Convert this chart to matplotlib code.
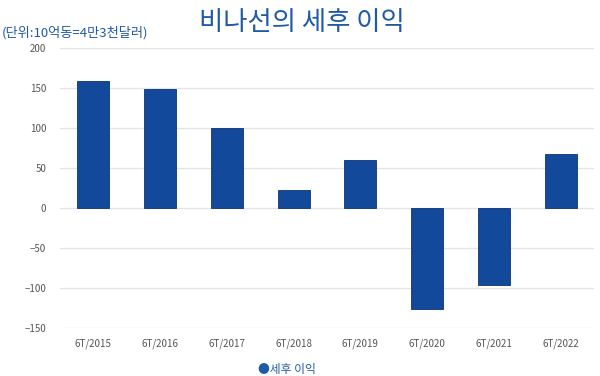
import numpy as np
import matplotlib.pyplot as plt

plt.rcParams['font.family'] = ['Noto Sans CJK KR', 'DejaVu Sans']

years = ['6T/2015', '6T/2016', '6T/2017', '6T/2018', '6T/2019', '6T/2020', '6T/2021', '6T/2022']
profit = [159, 149, 100, 23, 60, -126, -96, 67]

bar_color = '#13499a'

fig = plt.figure(figsize=(6, 3.76), dpi=100)
ax = fig.add_axes([0.1, 0.128, 0.89, 0.744])

x = np.arange(len(years))
ax.bar(x, profit, width=0.48, color=bar_color, edgecolor='#0d3470', linewidth=0.6, zorder=3)

ax.set_xlim(-0.5, len(years) - 0.5)
ax.set_ylim(-150, 200)
ax.set_yticks(range(-150, 201, 50))
ax.set_xticks(x)
ax.set_xticklabels(years)
ax.grid(axis='y', color='#e4e4e4', linewidth=0.9, zorder=0)
for s in ax.spines.values():
    s.set_visible(False)
ax.tick_params(length=0, labelsize=7, labelcolor='#555555')
ax.tick_params(axis='x', pad=8)
ax.tick_params(axis='y', pad=10)

fig.text(0.503, 0.94, '비나선의 세후 이익', ha='center', va='center', fontsize=19, color='#1f5aa6')
fig.text(0.003, 0.913, '(단위:10억동=4만3천달러)', ha='left', va='center', fontsize=9.5, color='#1f5aa6')
fig.text(0.479, 0.018, '●세후 이익', ha='center', va='center', fontsize=8.5, color='#1f5aa6')

fig.savefig('out.png', dpi=100)
